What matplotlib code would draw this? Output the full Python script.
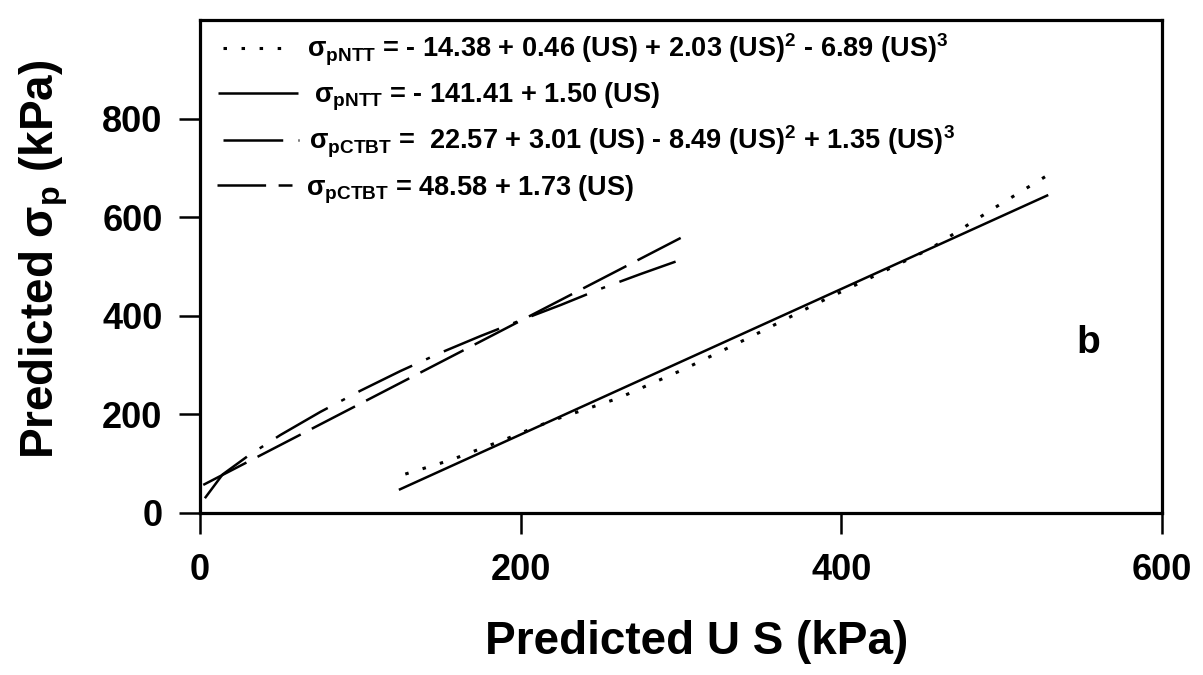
#!/usr/bin/env python3
"""
Predicted preconsolidation stress against predicted US, panel b.
"""
import matplotlib
matplotlib.use('Agg')
import matplotlib.pyplot as plt

# NTT, cubic fit (dotted)
ntt_cubic_us = [128, 139, 150, 160, 190, 219, 261, 302, 342, 384, 420, 456, 496, 530]
ntt_cubic_sp = [79, 90, 101, 112, 149, 187, 233, 292, 355, 424, 480, 537, 620, 688]

# NTT, linear fit (solid)
ntt_lin_us = [124, 529]
ntt_lin_sp = [47, 645]

# CTBT, cubic fit (dash-dot)
ctbt_cubic_us = [3, 14, 30, 50, 75, 100, 125, 150, 175, 200, 225, 250, 275, 301]
ctbt_cubic_sp = [30, 78, 116, 158, 205, 248, 288, 325, 359, 391, 422, 455, 485, 515]

# CTBT, linear fit (long dash)
ctbt_lin_us = [2, 301]
ctbt_lin_sp = [57, 560]

legend_labels = [
    r'σ$_{pNTT}$ = - 14.38 + 0.46 (US) + 2.03 (US)$^2$ - 6.89 (US)$^3$',
    r'σ$_{pNTT}$ = - 141.41 + 1.50 (US)',
    r'σ$_{pCTBT}$ =  22.57 + 3.01 (US) - 8.49 (US)$^2$ + 1.35 (US)$^3$',
    r'σ$_{pCTBT}$ = 48.58 + 1.73 (US)',
]

x_ticks = [0, 200, 400, 600]
y_ticks = [0, 200, 400, 600, 800]

DOTTED = (0, (2.5, 10.5))
SOLID = '-'
DASH_DOT = (0, (43, 11, 3, 11))
LONG_DASH = (0, (35, 9))


def setup_fonts():
    plt.rcParams['font.family'] = ['Liberation Sans', 'DejaVu Sans']
    plt.rcParams['font.weight'] = 'bold'
    plt.rcParams['mathtext.fontset'] = 'custom'
    plt.rcParams['mathtext.rm'] = 'Liberation Sans:bold'
    plt.rcParams['mathtext.it'] = 'Liberation Sans:bold'
    plt.rcParams['mathtext.bf'] = 'Liberation Sans:bold'
    plt.rcParams['mathtext.sf'] = 'Liberation Sans:bold'
    plt.rcParams['lines.scale_dashes'] = False


def plot_panel(output_path='out.png'):
    fig = plt.figure(figsize=(12.03, 6.75), dpi=100)
    ax = fig.add_axes([0.1663, 0.24, 0.7997, 0.7304])

    series = [
        (ntt_cubic_us, ntt_cubic_sp, DOTTED, 2.2),
        (ntt_lin_us, ntt_lin_sp, SOLID, 1.8),
        (ctbt_cubic_us, ctbt_cubic_sp, DASH_DOT, 1.8),
        (ctbt_lin_us, ctbt_lin_sp, LONG_DASH, 1.8),
    ]
    for us, sp, ls, lw in series:
        ax.plot(us, sp, color='black', lw=lw, linestyle=ls, solid_capstyle='butt')

    # hand-made legend: sample line + equation per row
    rows_y = [943, 852, 757, 665]
    sample_x = [(14, 57), (11, 61), (14, 62), (10.6, 57.5)]
    text_x = [67, 71, 68, 66]
    for (_, _, ls, lw), y, (x0, x1), tx, label in zip(series, rows_y, sample_x,
                                                       text_x, legend_labels):
        ax.plot([x0, x1], [y, y], color='black', lw=lw, linestyle=ls, solid_capstyle='butt')
        ax.text(tx, y - 20, label, fontsize=19.5, fontweight='bold', va='baseline', ha='left')

    ax.text(554, 345, 'b', fontsize=28, fontweight='bold', ha='center', va='center')

    ax.set_xlim(0, 600)
    ax.set_ylim(0, 1000)
    ax.set_xticks(x_ticks)
    ax.set_yticks(y_ticks)
    ax.tick_params(axis='both', direction='out', length=15, width=1.8, labelsize=26)
    ax.tick_params(axis='x', pad=14)
    ax.tick_params(axis='y', pad=12)
    for lbl in ax.get_xticklabels() + ax.get_yticklabels():
        lbl.set_fontweight('bold')
    for spine in ax.spines.values():
        spine.set_linewidth(2.3)

    fig.text(697 / 1203, 1 - 642 / 675, 'Predicted U S (kPa)', fontsize=33,
             fontweight='bold', ha='center', va='center')
    fig.text(44 / 1203, 1 - 259 / 675, r'Predicted σ$_p$ (kPa)', fontsize=33,
             fontweight='bold', ha='center', va='center', rotation=90)

    fig.savefig(output_path, dpi=100)
    plt.close(fig)


def main():
    setup_fonts()
    plot_panel('out.png')
    return 0


if __name__ == '__main__':
    exit(main())
